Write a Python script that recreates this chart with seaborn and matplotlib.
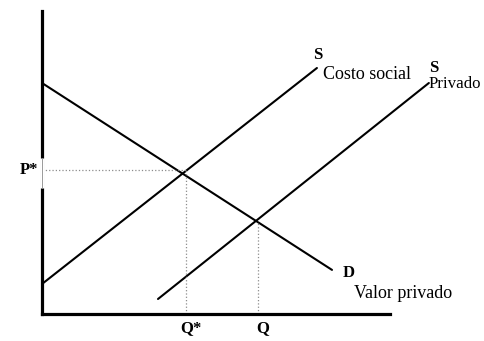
import pandas as pd
import matplotlib
matplotlib.use("Agg")
import matplotlib.pyplot as plt
import seaborn as sns

# Curve end points (quantity, price)
demand_q = [0.0, 10.0]
demand_p = [7.7, 1.47]
social_q = [0.0, 9.48]
social_p = [1.0, 8.2]
private_q = [4.0, 13.34]
private_p = [0.5, 7.7]

# Equilibrium markers
q_star = 4.95
p_star = 4.8
q_private = 7.45
p_private = 3.1

curves = pd.DataFrame({
    "q": demand_q + social_q + private_q,
    "p": demand_p + social_p + private_p,
    "curve": ["D"] * 2 + ["S social"] * 2 + ["S privado"] * 2,
})

sns.set_theme(style="white")
plt.rcParams["font.family"] = ["Liberation Serif", "DejaVu Serif"]

fig = plt.figure(figsize=(4.84, 3.41), dpi=100)
ax = fig.add_axes([42 / 484, 27 / 341, 442 / 484, 314 / 341])

sns.lineplot(data=curves, x="q", y="p", hue="curve", units="curve",
             estimator=None, sort=False, palette=["black"] * 3,
             linewidth=1.5, legend=False, ax=ax, clip_on=False)

# dotted guides
ax.plot([0, q_star], [p_star, p_star], color="0.55", lw=0.9, ls=":")
ax.plot([q_star, q_star], [0, p_star], color="0.55", lw=0.9, ls=":")
ax.plot([q_private, q_private], [0, p_private], color="0.55", lw=0.9, ls=":")

ax.set_xlim(0, 442 / 29)
ax.set_ylim(0, 314 / 30)
ax.set_xticks([])
ax.set_yticks([])
ax.set_xlabel("")
ax.set_ylabel("")
for side in ["top", "right"]:
    ax.spines[side].set_visible(False)
ax.spines["bottom"].set_bounds(0, 12)
ax.spines["left"].set_bounds(0, 10.1)
for side in ["bottom", "left"]:
    ax.spines[side].set_color("black")
    ax.spines[side].set_linewidth(2.3)

# faint gap in the vertical axis next to P*
ax.plot([0, 0], [4.2, 5.2], color="white", lw=3.4, clip_on=False,
        solid_capstyle="butt", zorder=4)
ax.plot([0, 0], [4.2, 5.2], color="0.6", lw=0.7, clip_on=False,
        solid_capstyle="butt", zorder=5)

bold = dict(fontsize=12, fontweight="bold", color="black")
plain = dict(fontsize=13, color="black")
ax.text(9.52, 8.63, "S", ha="center", va="center", **bold)
ax.text(9.69, 7.97, "Costo social", ha="left", va="center", **plain)
ax.text(13.52, 8.2, "S", ha="center", va="center", **bold)
ax.text(13.33, 7.66, "Privado", ha="left", va="center",
        fontsize=12.2, color="black")
ax.text(10.59, 1.37, "D", ha="center", va="center", **bold)
ax.text(10.76, 0.7, "Valor privado", ha="left", va="center", **plain)
ax.text(5.14, -0.47, "Q*", ha="center", va="center", clip_on=False, **bold)
ax.text(7.62, -0.47, "Q", ha="center", va="center", clip_on=False, **bold)
ax.text(-0.45, p_star, "P*", ha="center", va="center", clip_on=False, **bold)

fig.savefig("out.png", dpi=100)
